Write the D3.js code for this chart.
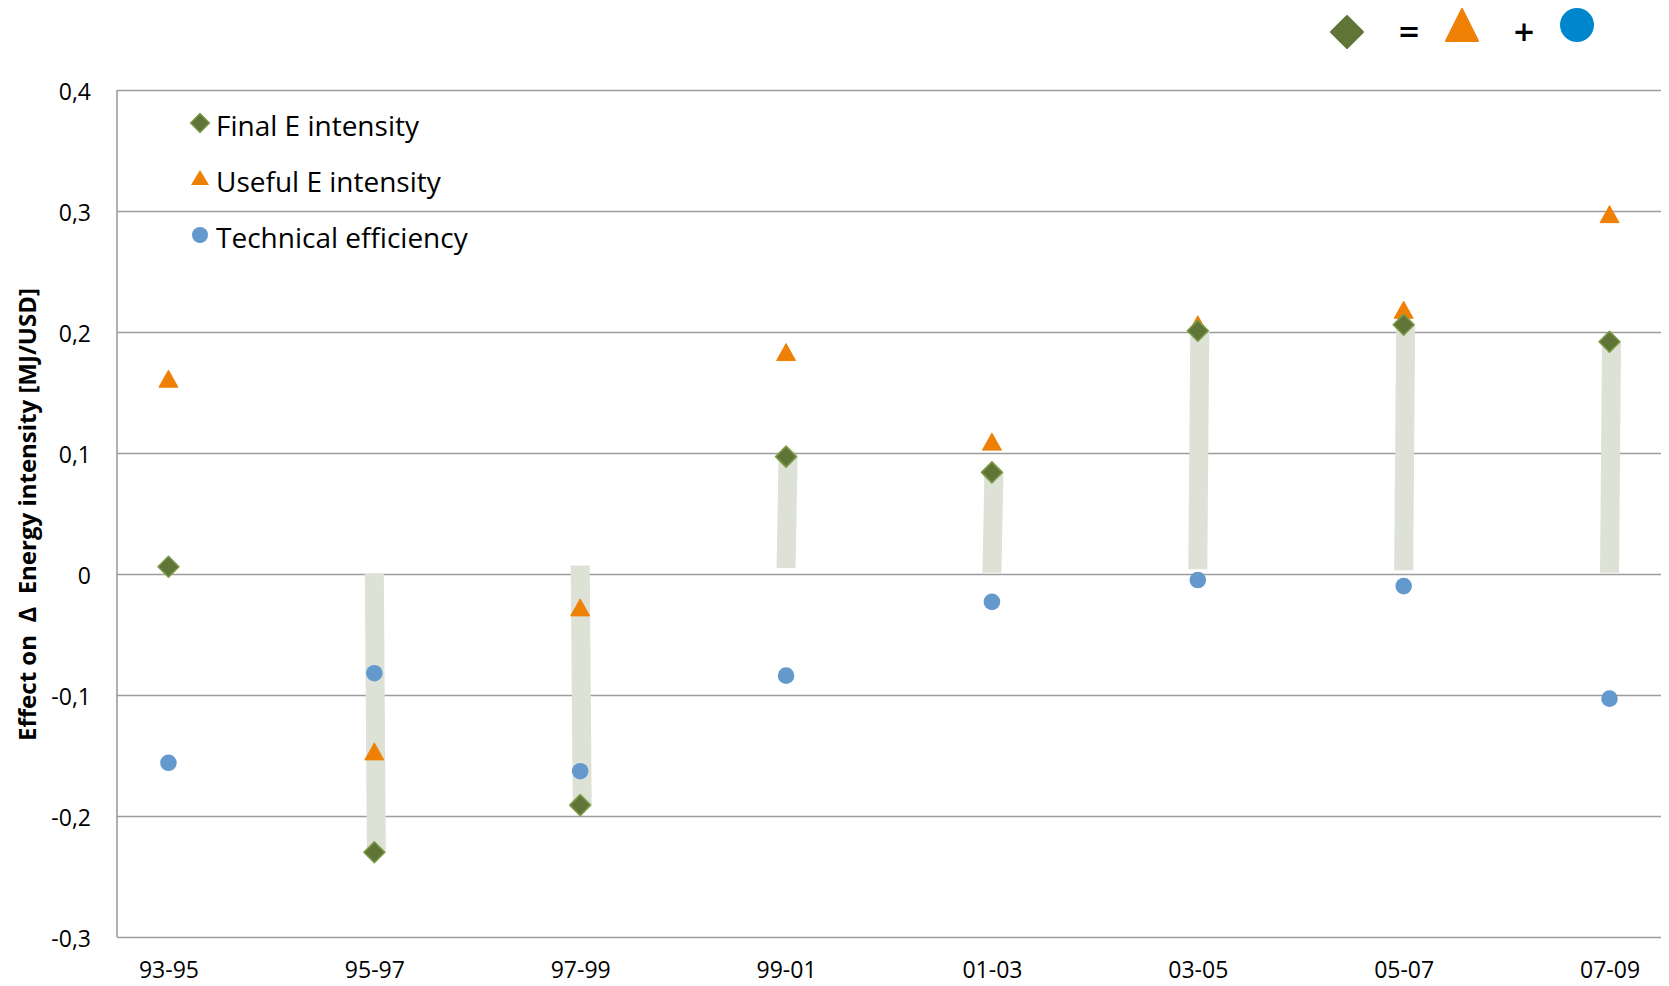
<!DOCTYPE html>
<html><head><meta charset="utf-8">
<script src="https://cdn.jsdelivr.net/npm/d3@7"></script>
<style>
html,body{margin:0;padding:0;background:#fff;}
svg{display:block;font-family:"Open Sans",sans-serif;}
</style></head>
<body>
<svg id="chart" width="1669" height="986"></svg>
<script>
// ---- data ----
const categories = ["93-95","95-97","97-99","99-01","01-03","03-05","05-07","07-09"];
const finalE    = [0.006, -0.230, -0.191, 0.097, 0.084, 0.201, 0.206, 0.192];
const usefulE   = [0.160, -0.148, -0.029, 0.182, 0.108, 0.205, 0.217, 0.296];
const technical = [-0.156, -0.082, -0.163, -0.084, -0.023, -0.005, -0.010, -0.103];
const barBase   = [null, 0.000, 0.007, 0.005, 0.001, 0.004, 0.003, 0.001];
const yTicks    = [-0.3,-0.2,-0.1,0,0.1,0.2,0.3,0.4];
const seriesNames = ["Final E intensity","Useful E intensity","Technical efficiency"];
const yTitle = "Effect on  \u2206  Energy intensity [MJ/USD]";

// ---- setup ----
const svg = d3.select("#chart");
const mLeft = 117, mRight = 1661, mTop = 90, mBottom = 937;
const x = d3.scalePoint().domain(categories).range([mLeft, mRight]).padding(0.25);
const y = d3.scaleLinear().domain([-0.3, 0.4]).range([mBottom, mTop]);
const loc = d3.formatLocale({decimal: ",", thousands: ".", grouping: [3], currency: ["", ""], minus: "-"});
const fmt = v => Math.abs(v) < 1e-9 ? "0" : loc.format(".1f")(v);

const cGreen = "#5f7538", cGreenEdge = "#7c9a48", cOrange = "#ee8005", cBlue = "#6399cd", cBar = "#dee1d6";

// gridlines
const yAxis = d3.axisLeft(y).tickValues(yTicks).tickSize(-(mRight - mLeft)).tickFormat(fmt).tickPadding(26);
const gy = svg.append("g").attr("transform", `translate(${mLeft},0)`).call(yAxis);
gy.select(".domain").remove();
gy.selectAll(".tick line").attr("stroke", "#9c9c9c").attr("stroke-width", 1.6);
gy.selectAll(".tick text").attr("font-size", 23).attr("fill", "#000").attr("font-family", "Open Sans").attr("dy", "0.42em");
svg.append("line").attr("x1", mLeft).attr("x2", mLeft).attr("y1", mTop).attr("y2", mBottom)
   .attr("stroke", "#9c9c9c").attr("stroke-width", 1.6);

// x axis labels
const xAxis = d3.axisBottom(x).tickSize(0).tickPadding(25);
const gx = svg.append("g").attr("transform", `translate(0,${mBottom})`).call(xAxis);
gx.select(".domain").remove();
gx.selectAll(".tick text").attr("font-size", 23).attr("fill", "#000").attr("font-family", "Open Sans");

// bars
const bw = 19;
svg.append("g").selectAll("path").data(categories.map((c, i) => ({c, b: barBase[i], t: finalE[i]})).filter(d => d.b !== null))
  .join("path")
  .attr("fill", cBar)
  .attr("d", d => {
    const cx = x(d.c) + 1;
    const y0 = y(d.b), y1 = y(d.t);
    return `M${cx - bw/2 - 1},${y0}L${cx + bw/2 - 1},${y0}L${cx + bw/2 + 1},${y1}L${cx - bw/2 + 1},${y1}Z`;
  });

// marker shapes
function diamondPath(cx, cy, r) { return `M${cx},${cy - r}L${cx + r},${cy}L${cx},${cy + r}L${cx - r},${cy}Z`; }
function trianglePath(cx, cy, w, h) { return `M${cx},${cy - h*0.6}L${cx + w/2},${cy + h*0.4}L${cx - w/2},${cy + h*0.4}Z`; }

// technical (circles)
svg.append("g").selectAll("circle").data(technical).join("circle")
  .attr("cx", (d, i) => x(categories[i])).attr("cy", d => y(d)).attr("r", 8.3).attr("fill", cBlue);
// useful (triangles)
svg.append("g").selectAll("path").data(usefulE).join("path")
  .attr("d", (d, i) => trianglePath(x(categories[i]), y(d), 19, 17)).attr("fill", cOrange)
  .attr("stroke", cOrange).attr("stroke-width", 1).attr("stroke-linejoin", "round");
// final (diamonds)
svg.append("g").selectAll("path").data(finalE).join("path")
  .attr("d", (d, i) => diamondPath(x(categories[i]), y(d), 10.5)).attr("fill", cGreen)
  .attr("stroke", cGreenEdge).attr("stroke-width", 1.5).attr("stroke-linejoin", "round");

// inner legend
const leg = svg.append("g");
const legRows = [123, 179, 235];
leg.append("path").attr("d", diamondPath(200, legRows[0], 9.5)).attr("fill", cGreen).attr("stroke", cGreenEdge).attr("stroke-width", 1.3);
leg.append("path").attr("d", trianglePath(200, legRows[1], 18, 15)).attr("fill", cOrange);
leg.append("circle").attr("cx", 200).attr("cy", legRows[2]).attr("r", 8).attr("fill", cBlue);
seriesNames.forEach((n, i) => {
  leg.append("text").attr("x", 216).attr("y", legRows[i] + 3).attr("dy", "0.36em")
    .attr("font-size", 28).attr("fill", "#000").text(n);
});

// top equation legend
const eq = svg.append("g");
eq.append("path").attr("d", diamondPath(1347, 32, 16)).attr("fill", "#5f7538")
  .attr("stroke", "#5f7538").attr("stroke-width", 2).attr("stroke-linejoin", "round");
eq.append("text").attr("x", 1409).attr("y", 32).attr("dy", "0.36em").attr("text-anchor", "middle")
  .attr("font-size", 36).attr("font-weight", "600").attr("fill", "#000").text("=");
eq.append("path").attr("d", `M1462,9L1478,41L1446,41Z`).attr("fill", "#ee8004")
  .attr("stroke", "#ee8004").attr("stroke-width", 2).attr("stroke-linejoin", "round");
eq.append("text").attr("x", 1524).attr("y", 32).attr("dy", "0.36em").attr("text-anchor", "middle")
  .attr("font-size", 36).attr("font-weight", "600").attr("fill", "#000").text("+");
eq.append("circle").attr("cx", 1577).attr("cy", 25).attr("r", 17).attr("fill", "#0086cd");

// y title
svg.append("text").attr("transform", `translate(27,${(289 + 740)/2}) rotate(-90)`)
  .attr("text-anchor", "middle").attr("dy", "0.36em").attr("font-size", 24).attr("font-weight", "bold")
  .attr("fill", "#000").style("white-space", "pre").attr("xml:space", "preserve").text(yTitle);
</script>
</body></html>
